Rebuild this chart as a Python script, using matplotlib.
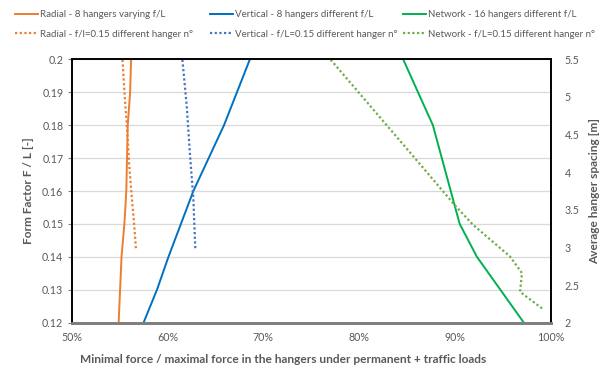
import matplotlib
matplotlib.use("Agg")
import matplotlib.pyplot as plt
from matplotlib.ticker import FuncFormatter, MultipleLocator

plt.rcParams['font.family'] = ['Lato', 'DejaVu Sans']

# Form factor series (left axis): ratio in % vs F/L
radial_fl = [0.12, 0.14, 0.15, 0.16, 0.18, 0.19, 0.20]
radial_ratio = [54.9, 55.2, 55.5, 55.7, 55.85, 56.1, 56.2]

vertical_fl = [0.12, 0.13, 0.14, 0.16, 0.18, 0.20]
vertical_ratio = [57.5, 58.9, 60.1, 62.7, 65.9, 68.6]

network_fl = [0.12, 0.14, 0.15, 0.18, 0.20]
network_ratio = [97.2, 92.3, 90.5, 87.7, 84.6]

# Hanger-number series at f/L=0.15 (right axis): ratio in % vs spacing [m]
radial_sp = [2.99, 3.34, 3.70, 4.10, 4.54, 4.98, 5.5]
radial_sp_ratio = [56.7, 56.5, 56.25, 56.0, 55.8, 55.55, 55.3]

vertical_sp = [2.99, 3.65, 4.23, 4.89, 5.5]
vertical_sp_ratio = [62.9, 62.7, 62.35, 62.0, 61.55]

network_sp = [2.19, 2.41, 2.66, 2.88, 3.30, 3.56, 4.10, 5.5]
network_sp_ratio = [99.1, 96.8, 97.0, 95.75, 91.9, 90.0, 86.4, 77.0]

x_ticks = [50, 60, 70, 80, 90, 100]

ORANGE = '#ED7D31'
BLUE = '#0070C0'
BLUE_DOT = '#4472C4'
GREEN = '#00B050'
GREEN_DOT = '#70AD47'
TXT = '#595959'

W, H = 600, 376
fig = plt.figure(figsize=(W / 100, H / 100), dpi=100)
ax = fig.add_axes([71.7 / W, 1 - 322.7 / H, (550.7 - 71.7) / W, (322.7 - 59.3) / H])
ax2 = ax.twinx()

lw = 1.4
dot = (0, (1, 1.1))
h1, = ax.plot(radial_ratio, radial_fl, color=ORANGE, lw=lw)
h3, = ax.plot(vertical_ratio, vertical_fl, color=BLUE, lw=lw)
h5, = ax.plot(network_ratio, network_fl, color=GREEN, lw=lw)
h2, = ax2.plot(radial_sp_ratio, radial_sp, color=ORANGE, lw=1.6, linestyle=dot)
h4, = ax2.plot(vertical_sp_ratio, vertical_sp, color=BLUE_DOT, lw=1.6, linestyle=dot)
h6, = ax2.plot(network_sp_ratio, network_sp, color=GREEN_DOT, lw=1.6, linestyle=dot)

ax.set_xlim(50, 100)
ax.set_ylim(0.12, 0.20)
ax2.set_ylim(2, 5.5)
ax.set_xticks(x_ticks)
ax.xaxis.set_major_formatter(FuncFormatter(lambda v, p: f"{v:.0f}%"))
ax.yaxis.set_major_locator(MultipleLocator(0.01))
ax.yaxis.set_major_formatter(FuncFormatter(lambda v, p: "0.2" if abs(v - 0.2) < 1e-9 else f"{v:.2f}"))
ax2.yaxis.set_major_locator(MultipleLocator(0.5))
ax2.yaxis.set_major_formatter(FuncFormatter(lambda v, p: f"{v:g}"))

ax.grid(axis='y', color='#D9D9D9', lw=0.9)
ax.set_axisbelow(True)

for a in (ax, ax2):
    for s in ('left', 'top', 'right'):
        a.spines[s].set_color('black')
        a.spines[s].set_linewidth(1.2)
    a.spines['bottom'].set_color('#7F7F7F')
    a.spines['bottom'].set_linewidth(2.0)

ax.tick_params(axis='y', which='both', length=3, width=0.8, color='#7F7F7F',
               labelsize=7.7, labelcolor=TXT, pad=3)
ax.tick_params(axis='x', length=0, labelsize=7.7, labelcolor=TXT, pad=7)
ax2.tick_params(axis='y', length=0, labelsize=7.7, labelcolor=TXT, pad=10)

ax.set_xlabel("Minimal force / maximal force in the hangers under permanent + traffic loads",
              fontsize=8.6, fontweight='bold', color=TXT)
ax.xaxis.set_label_coords((283 - 71.7) / (550.7 - 71.7), -0.117)
ax.set_ylabel("Form Factor F / L [-]", fontsize=8.6, fontweight='bold', color=TXT, labelpad=6)
ax2.set_ylabel("Average hanger spacing [m]", fontsize=8.6, fontweight='bold', color=TXT, labelpad=7)

# Legend: three fixed-width columns, two entries each
columns = [
    ([h1, h2], ["Radial - 8 hangers varying f/L",
                "Radial - f/l=0.15 different hanger n°"], 15),
    ([h3, h4], ["Vertical - 8 hangers different f/L",
                "Vertical - f/L=0.15 different hanger n°"], 210),
    ([h5, h6], ["Network - 16 hangers different f/L",
                "Network - f/L=0.15 different hanger n°"], 403),
]
for hs, labs, x0 in columns:
    fig.legend(hs, labs, loc='upper left', bbox_to_anchor=(x0 / W, 1 - 10 / H),
               frameon=False, fontsize=7.0, handlelength=2.4, handletextpad=0.2,
               labelspacing=1.1, labelcolor=TXT, borderpad=0, borderaxespad=0)

fig.savefig("out.png", dpi=100)
